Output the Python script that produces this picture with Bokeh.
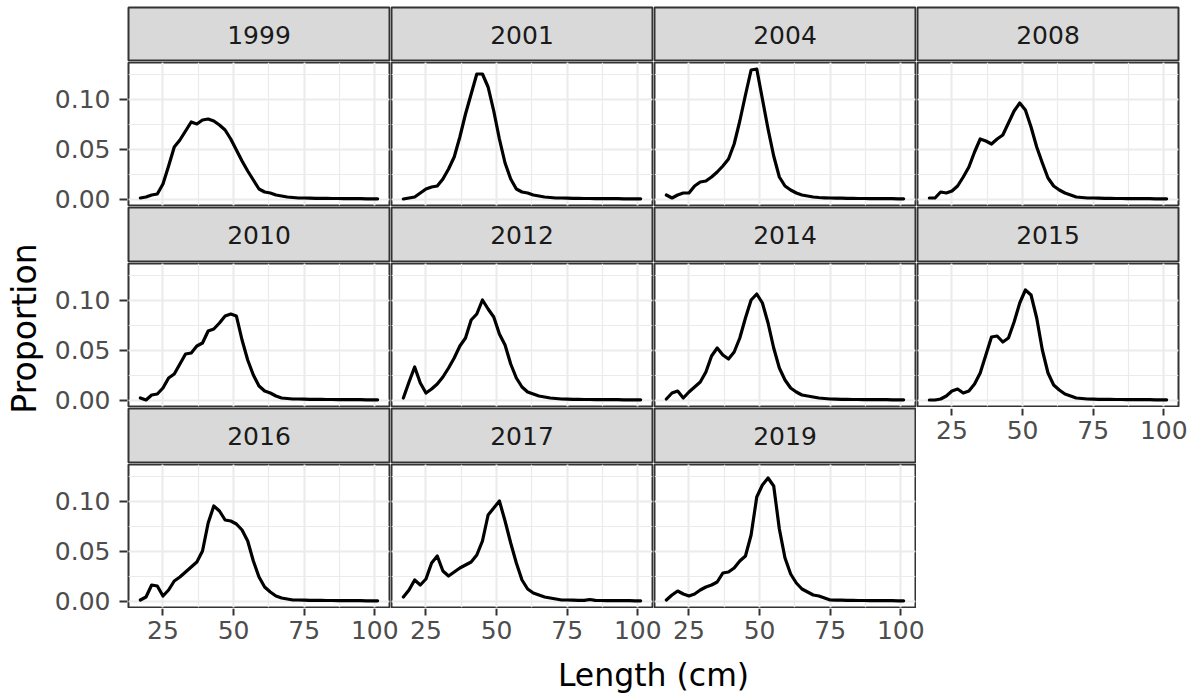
import math

from bokeh.core.properties import value
from bokeh.embed import file_html
from bokeh.layouts import column, row
from bokeh.models import Grid, LinearAxis, PrintfTickFormatter, Range1d, SingleIntervalTicker
from bokeh.plotting import figure
from bokeh.resources import INLINE

# ---------------------------------------------------------------- data
lengths = list(range(17, 102, 2))  # length bins (cm)

years = ["1999", "2001", "2004", "2008", "2010", "2012",
         "2014", "2015", "2016", "2017", "2019"]

prop_1999 = [0.001, 0.002, 0.004, 0.005, 0.015, 0.033, 0.052, 0.059, 0.068, 0.077,
             0.075, 0.079, 0.080, 0.078, 0.074, 0.069, 0.060, 0.049, 0.038, 0.028,
             0.019, 0.010, 0.007, 0.006, 0.004, 0.003, 0.002, 0.0015, 0.001, 0.001,
             0.0008, 0.0007, 0.0006, 0.0006, 0.0005, 0.0005, 0.0004, 0.0004, 0.0003, 0.0003,
             0.0002, 0.0002, 0.0002]
prop_2001 = [0.000, 0.001, 0.002, 0.006, 0.010, 0.012, 0.013, 0.020, 0.030, 0.042,
             0.062, 0.085, 0.105, 0.125, 0.125, 0.112, 0.088, 0.060, 0.036, 0.020,
             0.010, 0.007, 0.006, 0.004, 0.003, 0.002, 0.0015, 0.001, 0.001, 0.0008,
             0.0007, 0.0006, 0.0005, 0.0005, 0.0004, 0.0004, 0.0003, 0.0003, 0.0003, 0.0002,
             0.0002, 0.0002, 0.0002]
prop_2004 = [0.004, 0.001, 0.004, 0.006, 0.006, 0.013, 0.017, 0.018, 0.022, 0.027,
             0.033, 0.040, 0.055, 0.078, 0.104, 0.129, 0.130, 0.100, 0.070, 0.043,
             0.022, 0.013, 0.009, 0.006, 0.004, 0.003, 0.002, 0.0015, 0.0012, 0.001,
             0.0009, 0.0008, 0.0007, 0.0006, 0.0005, 0.0005, 0.0004, 0.0004, 0.0003, 0.0003,
             0.0003, 0.0002, 0.0002]
prop_2008 = [0.001, 0.001, 0.007, 0.006, 0.008, 0.013, 0.022, 0.032, 0.047, 0.060,
             0.058, 0.055, 0.060, 0.064, 0.076, 0.088, 0.096, 0.089, 0.072, 0.052,
             0.036, 0.021, 0.013, 0.009, 0.006, 0.004, 0.002, 0.0015, 0.001, 0.001,
             0.0008, 0.0007, 0.0006, 0.0005, 0.0005, 0.0004, 0.0004, 0.0003, 0.0003, 0.0003,
             0.0002, 0.0002, 0.0002]
prop_2010 = [0.002, 0.000, 0.005, 0.006, 0.012, 0.022, 0.026, 0.036, 0.046, 0.047,
             0.054, 0.057, 0.069, 0.071, 0.077, 0.084, 0.086, 0.084, 0.060, 0.040,
             0.025, 0.014, 0.009, 0.007, 0.004, 0.002, 0.0015, 0.001, 0.001, 0.0008,
             0.0007, 0.0006, 0.0006, 0.0005, 0.0005, 0.0004, 0.0004, 0.0003, 0.0003, 0.0003,
             0.0002, 0.0002, 0.0002]
prop_2012 = [0.002, 0.018, 0.033, 0.017, 0.007, 0.011, 0.016, 0.023, 0.032, 0.042,
             0.054, 0.062, 0.080, 0.086, 0.100, 0.091, 0.083, 0.066, 0.055, 0.036,
             0.022, 0.013, 0.008, 0.006, 0.004, 0.003, 0.002, 0.0015, 0.001, 0.0008,
             0.0007, 0.0006, 0.0005, 0.0005, 0.0004, 0.0004, 0.0003, 0.0003, 0.0003, 0.0002,
             0.0002, 0.0002, 0.0002]
prop_2014 = [0.001, 0.007, 0.009, 0.002, 0.008, 0.013, 0.018, 0.028, 0.044, 0.052,
             0.045, 0.041, 0.048, 0.062, 0.082, 0.100, 0.106, 0.097, 0.077, 0.052,
             0.032, 0.020, 0.012, 0.008, 0.005, 0.004, 0.003, 0.002, 0.0015, 0.001,
             0.0008, 0.0007, 0.0006, 0.0005, 0.0005, 0.0004, 0.0004, 0.0003, 0.0003, 0.0003,
             0.0002, 0.0002, 0.0002]
prop_2015 = [0.000, 0.000, 0.001, 0.004, 0.009, 0.011, 0.007, 0.009, 0.016, 0.027,
             0.045, 0.063, 0.064, 0.058, 0.062, 0.078, 0.097, 0.110, 0.105, 0.082,
             0.050, 0.027, 0.015, 0.010, 0.006, 0.004, 0.002, 0.0015, 0.001, 0.0008,
             0.0007, 0.0006, 0.0006, 0.0005, 0.0005, 0.0004, 0.0004, 0.0003, 0.0003, 0.0003,
             0.0002, 0.0002, 0.0002]
prop_2016 = [0.001, 0.004, 0.016, 0.015, 0.005, 0.011, 0.020, 0.024, 0.029, 0.034,
             0.039, 0.050, 0.078, 0.095, 0.090, 0.081, 0.080, 0.077, 0.071, 0.060,
             0.040, 0.024, 0.014, 0.009, 0.005, 0.003, 0.002, 0.001, 0.001, 0.0008,
             0.0007, 0.0006, 0.0006, 0.0005, 0.0005, 0.0004, 0.0004, 0.0003, 0.0003, 0.0003,
             0.0002, 0.0002, 0.0002]
prop_2017 = [0.004, 0.011, 0.021, 0.016, 0.022, 0.038, 0.045, 0.030, 0.025, 0.029,
             0.033, 0.036, 0.039, 0.046, 0.060, 0.086, 0.093, 0.100, 0.080, 0.058,
             0.038, 0.021, 0.012, 0.008, 0.006, 0.004, 0.003, 0.002, 0.001, 0.001,
             0.0008, 0.0007, 0.0006, 0.0015, 0.0006, 0.0005, 0.0004, 0.0004, 0.0003, 0.0003,
             0.0003, 0.0002, 0.0002]
prop_2019 = [0.001, 0.006, 0.010, 0.007, 0.005, 0.007, 0.011, 0.014, 0.016, 0.019,
             0.028, 0.029, 0.033, 0.040, 0.045, 0.066, 0.104, 0.116, 0.123, 0.115,
             0.072, 0.043, 0.027, 0.018, 0.012, 0.009, 0.006, 0.005, 0.003, 0.001,
             0.0009, 0.0008, 0.0007, 0.0006, 0.0005, 0.0005, 0.0004, 0.0004, 0.0003, 0.0003,
             0.0003, 0.0002, 0.0002]

series = dict(zip(years, [prop_1999, prop_2001, prop_2004, prop_2008, prop_2010, prop_2012,
                          prop_2014, prop_2015, prop_2016, prop_2017, prop_2019]))

x_title = "Length (cm)"
y_title = "Proportion"

# ---------------------------------------------------------------- style
FONT = "DejaVu Sans"
DARK = "#333333"
STRIP_FILL = "#d9d9d9"
GRID = "#ebebeb"
TICK_TEXT = "#4d4d4d"
TICK_SIZE = "25px"

NCOL = 4
PAGE_W, PAGE_H = 1195, 694
LEFT_W = 127                      # y title and y axes live in this column
COL_W = [263, 263, 263, 279]      # figure width per facet column
COL_LEFT = [1, 1, 1, 1]
COL_RIGHT = [1, 1, 1, 17]
PANEL_W = COL_W[0] - COL_LEFT[0] - COL_RIGHT[0]

STRIP_H = [61, 56, 56]            # figure heights of the strip bands
STRIP_TOP = [7, 1, 1]
PANEL_H = 145
PANEL_PAD = 1                     # border above/below each panel frame
XAXIS_H = 46
XTITLE_H = PAGE_H - (sum(STRIP_H) + 3 * PANEL_H + XAXIS_H)
GRID_H = sum(STRIP_H) + 3 * PANEL_H + XAXIS_H

# page x of each column figure and of each panel frame
col_x = [LEFT_W]
for w in COL_W[:-1]:
    col_x.append(col_x[-1] + w)
frame_x = [col_x[c] + COL_LEFT[c] for c in range(NCOL)]

# page y of each panel frame (top, bottom)
frame_y = []
y = 0
for r in range(3):
    y += STRIP_H[r]
    frame_y.append((y + PANEL_PAD, y + PANEL_H - PANEL_PAD))
    y += PANEL_H

# shared scales, padded 5% on both sides
x_lo, x_hi = min(lengths), max(lengths)
X0 = x_lo - 0.05 * (x_hi - x_lo)
X1 = x_hi + 0.05 * (x_hi - x_lo)
y_top = max(max(v) for v in series.values())
Y0, Y1 = -0.05 * y_top, 1.05 * y_top
px_per_x = PANEL_W / (X1 - X0)
px_per_y = (PANEL_H - 2 * PANEL_PAD) / (Y1 - Y0)


def blank(width, height, x_range, y_range, left=0, right=0, top=0, bottom=0):
    p = figure(width=width, height=height, x_range=x_range, y_range=y_range,
               x_axis_type=None, y_axis_type=None, toolbar_location=None,
               output_backend="svg", min_border_left=left, min_border_right=right,
               min_border_top=top, min_border_bottom=bottom)
    p.outline_line_color = None
    p.background_fill_color = "white"
    p.border_fill_color = "white"
    return p


def strip(c, label, band):
    p = blank(COL_W[c], STRIP_H[band], Range1d(0, 1), Range1d(0, 1),
              left=COL_LEFT[c], right=COL_RIGHT[c], top=STRIP_TOP[band], bottom=0)
    p.background_fill_color = STRIP_FILL
    p.outline_line_color = DARK
    p.outline_line_width = 2
    p.text(x=[0.5], y=[0.5], text=[label], text_align="center", text_baseline="middle",
           text_font=value(FONT), text_font_size=TICK_SIZE, text_color="#1a1a1a")
    return p


def x_ticker():
    return SingleIntervalTicker(interval=25, num_minor_ticks=2)


def y_ticker():
    return SingleIntervalTicker(interval=0.05, num_minor_ticks=2)


def style_axis(ax):
    ax.axis_line_color = None
    ax.major_tick_line_color = DARK
    ax.major_tick_line_width = 2
    ax.minor_tick_line_color = None
    ax.major_label_text_font = FONT
    ax.major_label_text_font_size = TICK_SIZE
    ax.major_label_text_color = TICK_TEXT


def panel(c, label):
    p = blank(COL_W[c], PANEL_H, Range1d(X0, X1), Range1d(Y0, Y1),
              left=COL_LEFT[c], right=COL_RIGHT[c], top=PANEL_PAD, bottom=PANEL_PAD)
    p.outline_line_color = DARK
    p.outline_line_width = 2
    for dim, tk in ((0, x_ticker()), (1, y_ticker())):
        g = Grid(dimension=dim, ticker=tk, grid_line_color=GRID, grid_line_width=2,
                 minor_grid_line_color=GRID, minor_grid_line_width=1.2)
        p.add_layout(g, "center")
    p.line(lengths, series[label], line_color="black", line_width=3.2,
           line_join="round", line_cap="round")
    return p


def x_axis_only(page_a, page_b, left, height, panel_left):
    """Tick marks and labels of one facet column, sharing its panel's x scale."""
    start = X0 + (page_a + left - panel_left) / px_per_x
    end = X0 + (page_b - panel_left) / px_per_x
    p = blank(page_b - page_a, height, Range1d(start, end), Range1d(0, 1),
              left=left, right=0, top=0, bottom=0)
    p.background_fill_color = None
    ax = LinearAxis(ticker=x_ticker(), bounds=(X0, X1), fixed_location=1)
    style_axis(ax)
    ax.major_tick_out = 7
    ax.major_tick_in = 0
    ax.major_label_standoff = 5
    p.add_layout(ax, "below")
    return p


# ---------------------------------------------------------------- left column
# one canvas for the y title and the three y axes, each axis on a y range
# that lines up with its row of panels
left = blank(LEFT_W, GRID_H, Range1d(0, LEFT_W), Range1d(0, GRID_H))
left.background_fill_color = None
for r, (top, bot) in enumerate(frame_y):
    name = f"row{r}"
    left.extra_y_ranges[name] = Range1d(Y0 - (GRID_H - bot) / px_per_y,
                                        Y0 + bot / px_per_y)
    ax = LinearAxis(y_range_name=name, ticker=y_ticker(), bounds=(Y0, Y1),
                    formatter=PrintfTickFormatter(format="%.2f"), fixed_location=LEFT_W)
    style_axis(ax)
    ax.major_tick_out = 8
    ax.major_tick_in = 0
    ax.major_label_standoff = 9
    left.add_layout(ax, "left")

left.text(x=[24], y=[GRID_H - 328], text=[y_title], angle=math.pi / 2,
          text_align="center", text_baseline="middle",
          text_font=value(FONT), text_font_size="33px", text_color="black")

# ---------------------------------------------------------------- facets
bands = []
for r in range(3):
    row_years = years[r * NCOL:(r + 1) * NCOL]
    strips = [strip(c, y, r) for c, y in enumerate(row_years)]
    if len(row_years) < NCOL and r > 0:
        # the column above has no facet below it: its axis sits here
        c = len(row_years)
        strips.append(x_axis_only(col_x[c], PAGE_W, COL_LEFT[c], STRIP_H[r], frame_x[c]))
    bands.append(row(*strips))
    bands.append(row(*[panel(c, y) for c, y in enumerate(row_years)]))

# bottom axes: split the width between labels of neighbouring columns
last = years[2 * NCOL:]
cuts = [LEFT_W] + [frame_x[c + 1] + 13 for c in range(len(last) - 1)] + [PAGE_W]
axes = []
for c in range(len(last)):
    pad = COL_LEFT[c] if c == 0 else 0
    axes.append(x_axis_only(cuts[c], cuts[c + 1], pad, XAXIS_H, frame_x[c]))
bands.append(row(*axes))

# ---------------------------------------------------------------- x title
xlab = blank(PAGE_W, XTITLE_H, Range1d(0, PAGE_W), Range1d(0, XTITLE_H))
panels_mid = (frame_x[0] + frame_x[-1] + PANEL_W) / 2
xlab.text(x=[panels_mid], y=[XTITLE_H - 20], text=[x_title],
          text_align="center", text_baseline="middle",
          text_font=value(FONT), text_font_size="31.5px", text_color="black")

layout = column(row(left, column(*bands)), xlab)

with open("out.html", "w") as f:
    f.write(file_html(layout, INLINE))
